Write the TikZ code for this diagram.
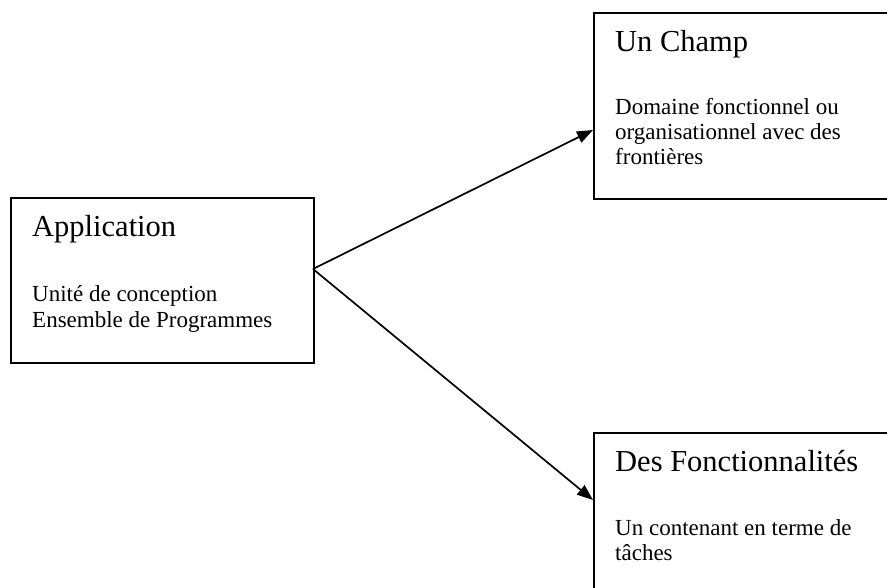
\documentclass[tikz,border=0pt]{standalone}
\usepackage{fontspec}
\setmainfont{Liberation Serif}
\usetikzlibrary{arrows.meta}

\tikzset{
  box/.style={draw=black, line width=1.8pt, rectangle, inner sep=0pt, anchor=north west},
  titletext/.style={anchor=base west, inner sep=0pt, font=\fontsize{30.5}{34}\selectfont},
  bodytext/.style={anchor=base west, inner sep=0pt, font=\fontsize{23}{25}\selectfont},
  link/.style={line width=1.7pt, -{Triangle[length=16pt,width=12pt]}}
}

\begin{document}
\begin{tikzpicture}[x=1pt, y=-1pt]
  \useasboundingbox (0,0) rectangle (887,588);
  \clip (0,0) rectangle (887,588);
  \fill[white] (0,0) rectangle (887,588);

  % Application
  \node[box, minimum width=303pt, minimum height=165pt] (app) at (10,197) {};
  \node[titletext] (appTitle) at (32,237) {Application};
  \node[bodytext] (appL1) at (32,302) {Unité de conception};
  \node[bodytext] (appL2) at (32,327) {Ensemble de Programmes};

  % Un Champ (runs past the right edge)
  \node[box, minimum width=320pt, minimum height=186pt] (champ) at (593,12) {};
  \node[titletext] (champTitle) at (615,52) {Un Champ};
  \node[bodytext] (champL1) at (615,115) {Domaine fonctionnel ou};
  \node[bodytext] (champL2) at (615,140) {organisationnel avec des};
  \node[bodytext] (champL3) at (615,165) {frontières};

  % Des Fonctionnalités (runs past the right and bottom edges)
  \node[box, minimum width=320pt, minimum height=190pt] (fonc) at (593,432) {};
  \node[titletext] (foncTitle) at (615,471) {Des Fonctionnalités};
  \node[bodytext] (foncL1) at (615,535) {Un contenant en terme de};
  \node[bodytext] (foncL2) at (615,560) {tâches};

  % connectors
  \coordinate (appOut) at (313,269);
  \coordinate (champIn) at (593,130);
  \coordinate (foncIn) at (593,500);
  \draw[link] (appOut) -- (champIn);
  \draw[link] (appOut) -- (foncIn);
\end{tikzpicture}
\end{document}
